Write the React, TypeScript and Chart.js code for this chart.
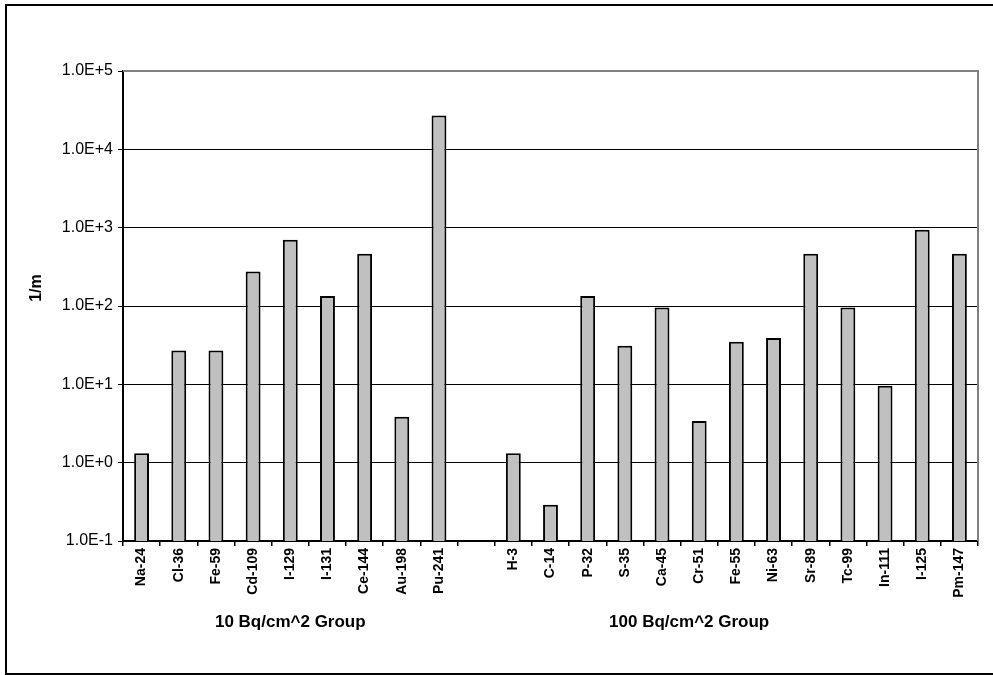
import React, { useEffect, useRef } from "react";
import { Chart, registerables } from "chart.js";

Chart.register(...registerables);

const categories = [
  "Na-24", "Cl-36", "Fe-59", "Cd-109", "I-129", "I-131", "Ce-144", "Au-198", "Pu-241",
  "",
  "H-3", "C-14", "P-32", "S-35", "Ca-45", "Cr-51", "Fe-55", "Ni-63", "Sr-89", "Tc-99", "In-111", "I-125", "Pm-147",
];
const values: (number | null)[] = [
  1.32, 27, 27, 275, 700, 134, 464, 3.85, 27000,
  null,
  1.32, 0.29, 134, 31, 96, 3.4, 35, 39, 464, 96, 9.6, 940, 464,
];
const yTicks = [0.1, 1, 10, 100, 1000, 10000, 100000];
const groupLabels = ["10 Bq/cm^2 Group", "100 Bq/cm^2 Group"];
const groupCenters = [4, 14.73];
const yTitle = "1/m";

const FONT = "'Liberation Sans', Arial, sans-serif";

export default function App() {
  const ref = useRef<HTMLCanvasElement | null>(null);
  useEffect(() => {
    document.body.style.margin = "0";
    const canvas = ref.current!;
    const decor = {
      id: "decor",
      afterDraw(chart: any) {
        const ctx = chart.ctx;
        const a = chart.chartArea;
        const xs = chart.scales.x;
        ctx.save();
        ctx.strokeStyle = "#808080";
        ctx.lineWidth = 2;
        ctx.beginPath();
        ctx.moveTo(a.left, a.top);
        ctx.lineTo(a.right, a.top);
        ctx.lineTo(a.right, a.bottom);
        ctx.stroke();
        ctx.strokeStyle = "#000";
        ctx.lineWidth = 2;
        ctx.strokeRect(6, 5, 1000, 669);
        ctx.fillStyle = "#000";
        ctx.font = `bold 16px ${FONT}`;
        ctx.textAlign = "center";
        ctx.textBaseline = "middle";
        ctx.translate(37, 288);
        ctx.rotate(-Math.PI / 2);
        ctx.fillText(yTitle, 0, 0);
        ctx.setTransform(1, 0, 0, 1, 0, 0);
        ctx.font = `bold 17px ${FONT}`;
        groupLabels.forEach((t, i) => {
          const c = groupCenters[i];
          const lo = Math.floor(c);
          const p0 = xs.getPixelForValue(lo);
          const p1 = xs.getPixelForValue(lo + 1);
          const x = p0 + (c - lo) * (p1 - p0);
          ctx.fillText(t, x, 622);
        });
        ctx.restore();
      },
    };
    const chart = new Chart(canvas, {
      type: "bar",
      data: {
        labels: categories,
        datasets: [
          {
            data: values as any,
            backgroundColor: "#C0C0C0",
            borderColor: "#000",
            borderWidth: 2,
            barPercentage: 0.4,
            categoryPercentage: 1,
          },
        ],
      },
      options: {
        animation: false,
        responsive: false,
        layout: { padding: { top: 71, right: 15, left: 0, bottom: 0 } },
        plugins: { legend: { display: false }, tooltip: { enabled: false } },
        scales: {
          x: {
            type: "category",
            offset: true,
            grid: { offset: true, drawOnChartArea: false, drawTicks: true, tickLength: 5, tickColor: "#000", lineWidth: 1.5 },
            border: { color: "#000", width: 2 },
            ticks: {
              autoSkip: false,
              minRotation: 90,
              maxRotation: 90,
              padding: 2,
              color: "#000",
              font: { family: FONT, size: 14, weight: "bold" },
            },
            afterFit(scale: any) {
              scale.height = 134;
            },
          },
          y: {
            type: "logarithmic",
            min: 0.1,
            max: 100000,
            grid: { color: "#000", lineWidth: 1, tickLength: 5, tickColor: "#000", drawTicks: true },
            border: { color: "#000", width: 2 },
            ticks: {
              color: "#000",
              padding: 5,
              font: { family: FONT, size: 16 },
              callback: (v: any) => Number(v).toExponential(1).toUpperCase(),
            },
            afterBuildTicks(scale: any) {
              scale.ticks = yTicks.map((v) => ({ value: v }));
            },
            afterFit(scale: any) {
              scale.width = 123;
            },
          },
        },
      } as any,
      plugins: [decor],
    });
    return () => chart.destroy();
  }, []);
  return (
    <canvas
      ref={ref}
      width={993}
      height={675}
      style={{ display: "block", position: "fixed", left: 0, top: 0 }}
    />
  );
}
